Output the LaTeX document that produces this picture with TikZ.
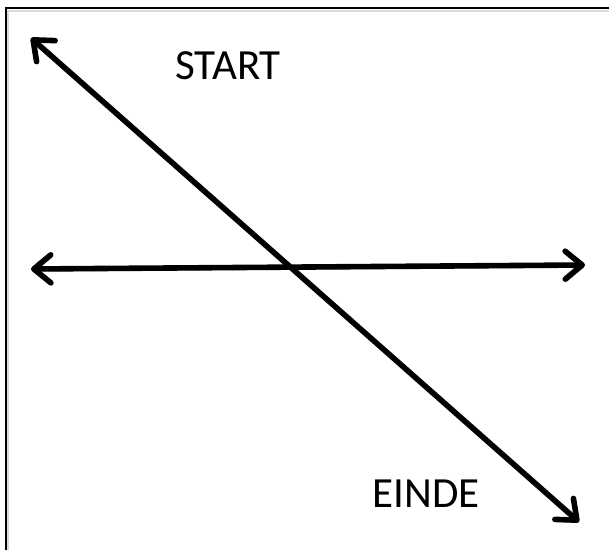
\documentclass[tikz,border=0pt]{standalone}
\usepackage{fontspec}
\setmainfont{Carlito}
\usetikzlibrary{arrows.meta}
\begin{document}
\begin{tikzpicture}[
  x=1pt, y=-1pt,
  arr/.style={line width=5.6pt, line cap=round,
              {Straight Barb[length=17pt, width=28pt, round]}-{Straight Barb[length=17pt, width=28pt, round]},
              preaction={draw=black!22, transform canvas={shift={(1.5pt,-2.5pt)}}}},
  frame/.style={line width=2.2pt,
              preaction={draw=black!15, line width=2pt, transform canvas={shift={(1.5pt,-3pt)}}}},
  lbl/.style={font=\fontsize{43}{48}\selectfont, inner sep=0pt}
]
\useasboundingbox (0,0) rectangle (609,549);
\draw[frame] (6,552) -- (6,8) -- (612,8);
% end points of the two arrows
\coordinate (dtop) at (31,38);
\coordinate (dbot) at (579,522);
\coordinate (hleft) at (31,269);
\coordinate (hright) at (585,265);
\draw[arr] (dtop) -- (dbot);
\draw[arr] (hleft) -- (hright);
\node[lbl] (start) at (228,66) {START};
\node[lbl] (einde) at (426,494) {EINDE};
\end{tikzpicture}
\end{document}
